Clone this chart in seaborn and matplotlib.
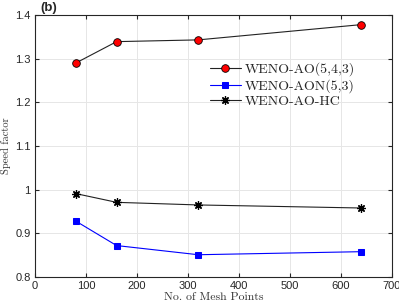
import numpy as np
import pandas as pd
import matplotlib
matplotlib.use("Agg")
import matplotlib.pyplot as plt
import seaborn as sns

# values
mesh_points = [80, 160, 320, 640]
ao_543 = [1.290, 1.339, 1.343, 1.378]
aon_53 = [0.928, 0.872, 0.851, 0.858]
ao_hc = [0.991, 0.971, 0.965, 0.958]
series_names = ["WENO-AO(5,4,3)", "WENO-AON(5,3)", "WENO-AO-HC"]
x_ticks = [0, 100, 200, 300, 400, 500, 600, 700]
y_ticks = [0.8, 0.9, 1.0, 1.1, 1.2, 1.3, 1.4]
y_tick_labels = ["0.8", "0.9", "1", "1.1", "1.2", "1.3", "1.4"]

sns.set_style("whitegrid")
plt.rcParams["font.family"] = ["Liberation Sans", "DejaVu Sans"]

fig = plt.figure(figsize=(3.99, 3.05), dpi=100)
ax = fig.add_axes([35 / 399, 1 - 277 / 305, 357 / 399, 262 / 305])

sns.lineplot(x=mesh_points, y=ao_543, ax=ax, color="#222222", lw=0.8,
             marker="o", markersize=5.5, markerfacecolor="red",
             markeredgecolor="black", markeredgewidth=0.6, label=series_names[0])
sns.lineplot(x=mesh_points, y=aon_53, ax=ax, color="blue", lw=0.8,
             marker="s", markersize=4.5, markerfacecolor="blue",
             markeredgecolor="blue", label=series_names[1])
sns.lineplot(x=mesh_points, y=ao_hc, ax=ax, color="#222222", lw=0.8,
             marker=(8, 2, 0), markersize=6, markeredgecolor="black",
             markeredgewidth=0.9, label=series_names[2])

ax.set_xlim(0, 700)
ax.set_ylim(0.8, 1.4)
ax.set_xticks(x_ticks)
ax.set_yticks(y_ticks)
ax.set_yticklabels(y_tick_labels)
ax.tick_params(labelsize=8, colors="#262626", direction="in", length=3,
               top=True, right=True, left=True, bottom=True, pad=3)
ax.grid(True, color="#e6e6e6", lw=0.7)
for s in ax.spines.values():
    s.set_color("#262626")
    s.set_linewidth(0.8)

ax.set_xlabel("No. of Mesh Points", family="cmr10", fontsize=8.5, color="#333333", labelpad=1)
ax.set_ylabel("Speed factor", family="cmr10", fontsize=7.5, color="#333333", labelpad=3)

leg = ax.legend(loc="upper left", bbox_to_anchor=(0.475, 0.84), frameon=False,
                prop={"family": "cmr10", "size": 10}, handlelength=2.2,
                handletextpad=0.3, labelspacing=0.2, borderaxespad=0)

fig.text(40 / 399, 1 - 8 / 305, "(b)", fontsize=9.5, fontweight="bold", va="center", ha="left")

fig.savefig("out.png", dpi=100)
